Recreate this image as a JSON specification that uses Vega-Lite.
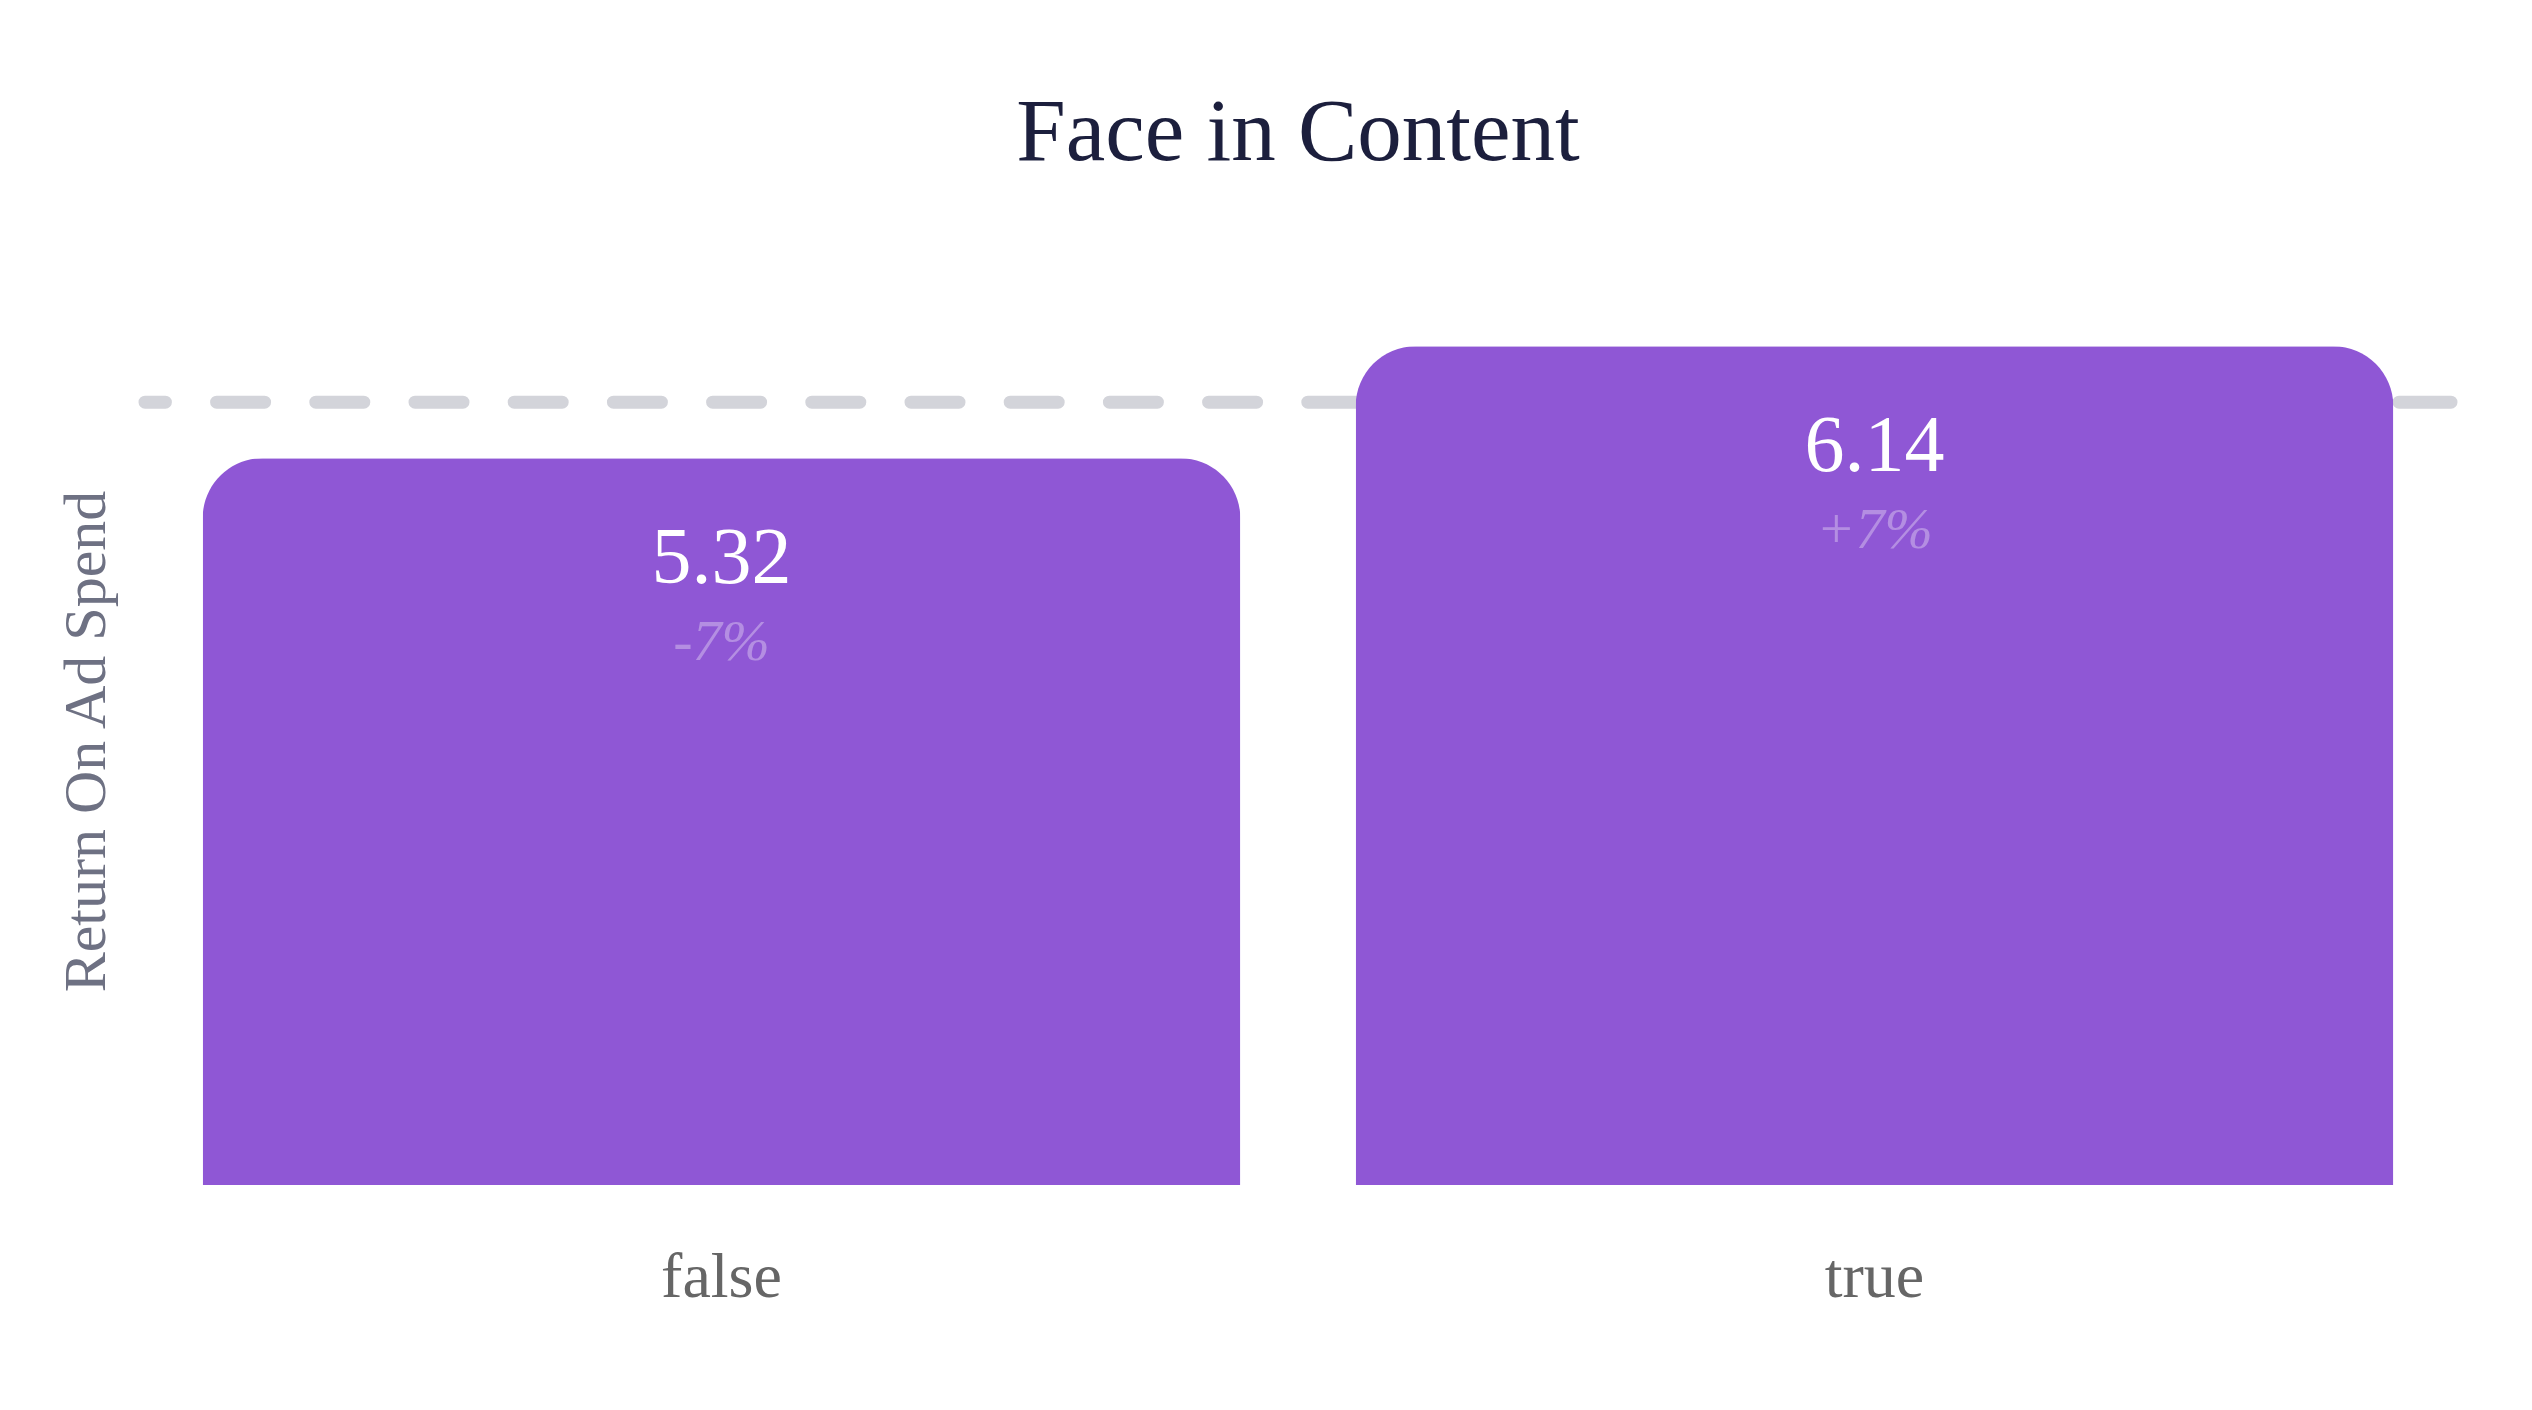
{
  "$schema": "https://vega.github.io/schema/vega-lite/v6.json",
  "autosize": {"type": "none"},
  "width": 2306,
  "height": 888,
  "padding": {"left": 145, "top": 297, "right": 81, "bottom": 225},
  "background": "white",
  "title": {
    "text": "Face in Content",
    "font": "Liberation Serif",
    "fontSize": 89,
    "fontWeight": "normal",
    "color": "#1c1f3d",
    "anchor": "middle",
    "frame": "group",
    "baseline": "alphabetic",
    "offset": 48
  },
  "config": {
    "view": {"stroke": null},
    "font": "Liberation Serif"
  },
  "data": {
    "values": [
      {"face": "false", "roas": 5.32, "label": "5.32", "pct": "-7%"},
      {"face": "true", "roas": 6.14, "label": "6.14", "pct": "+7%"}
    ]
  },
  "encoding": {
    "x": {
      "field": "face",
      "type": "nominal",
      "sort": ["false", "true"],
      "scale": {"paddingInner": 0.1, "paddingOuter": 0.05},
      "axis": {
        "title": null,
        "labelAngle": 0,
        "labelFont": "Liberation Serif",
        "labelFontSize": 64,
        "labelColor": "#666666",
        "labelPadding": 60,
        "ticks": false,
        "domain": false,
        "grid": false
      }
    },
    "y": {
      "field": "roas",
      "type": "quantitative",
      "scale": {"domain": [0, 6.5], "nice": false},
      "axis": {
        "title": "Return On Ad Spend",
        "titleFont": "Liberation Serif",
        "titleFontSize": 60,
        "titleFontWeight": "normal",
        "titleColor": "#6e7183",
        "titlePadding": 28,
        "labels": false,
        "ticks": false,
        "domain": false,
        "grid": false
      }
    }
  },
  "layer": [
    {
      "transform": [{"aggregate": [{"op": "mean", "field": "roas", "as": "avg"}]}],
      "mark": {
        "type": "rule",
        "color": "#d3d4da",
        "strokeWidth": 13,
        "strokeDash": [52, 51.2, 48, 51.2, 48, 51.2, 48, 51.2, 48, 51.2, 48, 51.2, 48, 51.2, 48, 51.2, 48, 51.2, 48, 51.2, 48, 51.2, 48, 51.2, 48, 51.2, 48, 51.2, 48, 51.2, 48, 51.2, 48, 51.2, 48, 51.2, 48, 51.2, 48, 51.2, 48, 51.2, 48, 51.2, 48, 51.2, 48, 51.2, 48, 51.2, 48, 51.2],
        "strokeCap": "round"
      },
      "encoding": {
        "x": null,
        "y": {"field": "avg", "type": "quantitative"}
      }
    },
    {
      "mark": {
        "type": "bar",
        "color": "#8f57d5",
        "cornerRadiusTopLeft": 60,
        "cornerRadiusTopRight": 60
      }
    },
    {
      "mark": {
        "type": "text",
        "font": "Liberation Serif",
        "fontSize": 80,
        "color": "#ffffff",
        "align": "center",
        "baseline": "alphabetic",
        "dy": 125
      },
      "encoding": {"text": {"field": "label"}}
    },
    {
      "mark": {
        "type": "text",
        "font": "Liberation Serif",
        "fontSize": 58,
        "fontStyle": "italic",
        "color": "#ffffff",
        "opacity": 0.33,
        "align": "center",
        "baseline": "alphabetic",
        "dy": 202
      },
      "encoding": {"text": {"field": "pct"}}
    }
  ]
}
